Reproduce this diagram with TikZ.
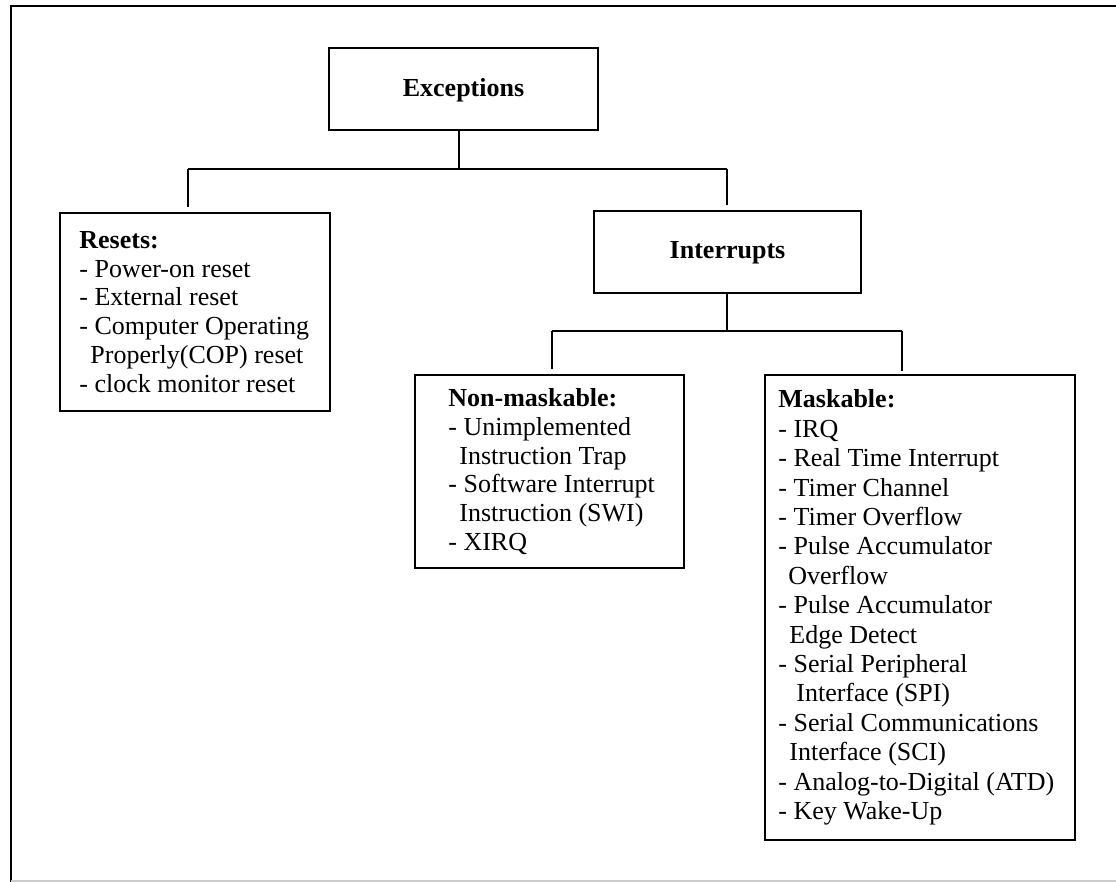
\documentclass[tikz,border=0pt]{standalone}
\usepackage{fontspec}
\setmainfont{Liberation Serif}
\begin{document}
\begin{tikzpicture}[x=1pt,y=-1pt,
  box/.style={draw, line width=1.6pt, inner sep=0pt},
  conn/.style={line width=1.3pt},
  txt/.style={inner sep=0pt, align=left, anchor=west, font=\fontsize{26}{28.8}\selectfont},
  title/.style={inner sep=0pt, font=\fontsize{26}{28.8}\selectfont\bfseries}
]
\useasboundingbox (0,0) rectangle (1116,882);
% frame
\draw[line width=1.8pt] (11,882) -- (11,6) -- (1116,6);
\draw[line width=1.2pt, gray!40] (11,881) -- (1116,881);

% boxes
\node[box, minimum width=269, minimum height=82] (exc) at (463.5,89) {};
\node[title] at (463.5,90) {Exceptions};
\node[box, minimum width=267, minimum height=82] (int) at (727.5,252) {};
\node[title] at (727.5,253) {Interrupts};
\node[box, minimum width=270, minimum height=198] (res) at (195,312) {};
\node[box, minimum width=269, minimum height=193] (nmi) at (549.5,471.5) {};
\node[box, minimum width=310, minimum height=465] (msk) at (920,607.5) {};

\node[txt] (restxt) at ([xshift=20]res.west) {\textbf{Resets:}\\
- Power-on reset\\
- External reset\\
- Computer Operating\\
\hspace*{11pt}Properly(COP) reset\\
- clock monitor reset};

\node[txt] (nmitxt) at ([xshift=34]nmi.west) {\textbf{Non-maskable:}\\
- Unimplemented\\
\hspace*{11pt}Instruction Trap\\
- Software Interrupt\\
\hspace*{11pt}Instruction (SWI)\\
- XIRQ};

\node[txt, font=\fontsize{26}{29.4}\selectfont] (msktxt) at ([xshift=14]msk.west) {\textbf{Maskable:}\\
- IRQ\\
- Real Time Interrupt\\
- Timer Channel\\
- Timer Overflow\\
- Pulse Accumulator\\
\hspace*{10pt}Overflow\\
- Pulse Accumulator\\
\hspace*{11pt}Edge Detect\\
- Serial Peripheral\\
\hspace*{18pt}Interface (SPI)\\
- Serial Communications\\
\hspace*{11pt}Interface (SCI)\\
- Analog-to-Digital (ATD)\\
- Key Wake-Up};

% connectors
\coordinate (j1) at (459,169);
\coordinate (jl) at (188,169);
\coordinate (jr) at (727,169);
\draw[conn] (exc.south -| j1) -- (j1);
\draw[conn] (jl) -- (jr);
\draw[conn, shorten >=5pt] (jl) -- (jl |- res.north);
\draw[conn, shorten >=5pt] (jr) -- (jr |- int.north);

\coordinate (j2) at (727,331);
\coordinate (jl2) at (552,331);
\coordinate (jr2) at (902,331);
\draw[conn] (int.south -| j2) -- (j2);
\draw[conn] (jl2) -- (jr2);
\draw[conn, shorten >=5pt] (jl2) -- (jl2 |- nmi.north);
\draw[conn, shorten >=3pt] (jr2) -- (jr2 |- msk.north);
\end{tikzpicture}
\end{document}
